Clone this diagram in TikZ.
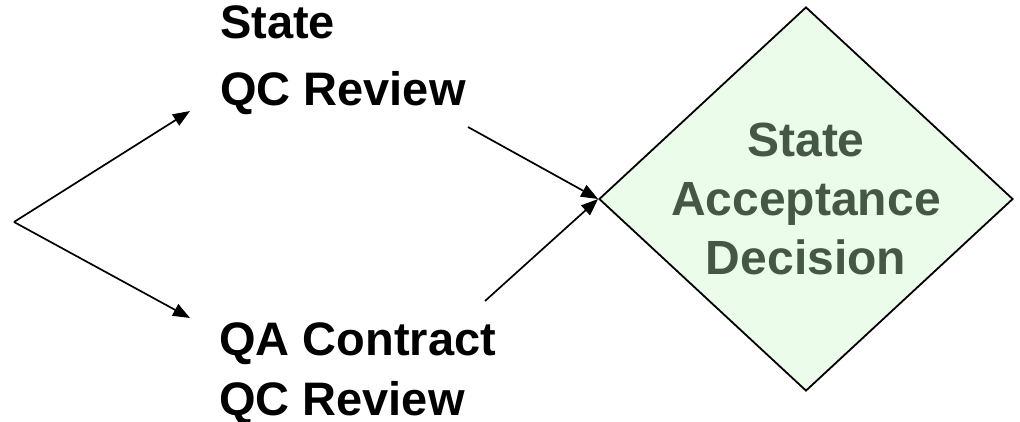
\documentclass[tikz,border=0pt]{standalone}
\usepackage{fontspec}
\setmainfont{Liberation Sans}
\usetikzlibrary{arrows.meta,shapes.geometric}
\definecolor{decfill}{HTML}{EBFCEB}
\definecolor{dectext}{HTML}{455745}
\tikzset{
  lbl/.style={font=\bfseries\fontsize{47}{67}\selectfont, inner sep=0pt, align=left, anchor=base west},
  arr/.style={line width=1.7pt, -{Triangle[length=17pt,width=13pt]}}
}
\begin{document}
\begin{tikzpicture}[x=1pt,y=-1pt]
      \useasboundingbox (0,0) rectangle (1020,421);
      \node[draw, line width=1.8pt, fill=decfill, shape=diamond, inner sep=0pt,
            minimum width=414pt, minimum height=384pt] (dec) at (806,199) {};
      \node[font=\bfseries\fontsize{48}{59}\selectfont, text=dectext, align=center, inner sep=0pt] (dectxt) at (dec.center) {State\\Acceptance\\Decision};
      \node[lbl] (stateqc) at (220,105) {State\\QC Review};
      \node[lbl, font=\bfseries\fontsize{47}{60}\selectfont] (qaqc) at (219,415) {QA Contract\\QC Review};
      \coordinate (src) at (14,222);
      \coordinate (up) at (190,111);
      \coordinate (down) at (190,318);
      \coordinate (t1) at (468,127);
      \coordinate (t2) at (485,301);
      \draw[arr] (src) -- (up);
      \draw[arr] (src) -- (down);
      \draw[arr] (t1) -- (dec.west);
      \draw[arr] (t2) -- (dec.west);
    \end{tikzpicture}
\end{document}
